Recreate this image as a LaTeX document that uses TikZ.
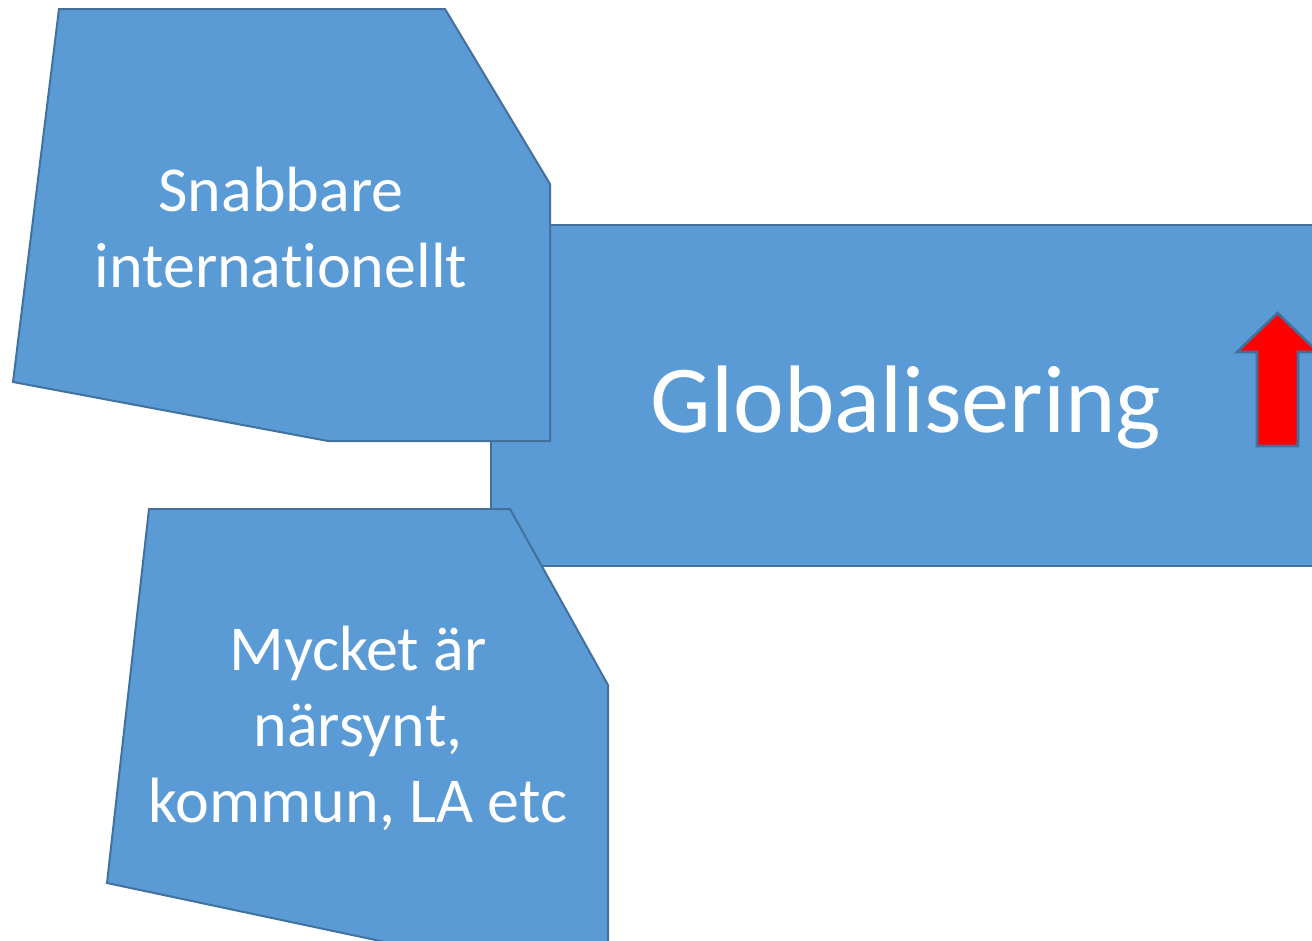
\documentclass[tikz,border=0pt]{standalone}
\usepackage{fontspec}
\setmainfont{Carlito}[Ligatures=NoCommon]
\definecolor{boxfill}{HTML}{5B9BD5}
\definecolor{boxline}{HTML}{41719C}
\definecolor{arrowred}{HTML}{FF0000}
\tikzset{
  shapebox/.style={fill=boxfill, draw=boxline, line width=1.5pt, line join=miter},
  redarrow/.style={fill=arrowred, draw=boxline, line width=2pt},
  smalltext/.style={text=white, align=center, font=\fontsize{48}{57}\selectfont, anchor=base, inner sep=0pt},
  bigtext/.style={text=white, font=\fontsize{72}{86}\selectfont, anchor=base, inner sep=0pt}
}
\begin{document}
\begin{tikzpicture}[x=0.75pt,y=-0.75pt]
\useasboundingbox (0,0) rectangle (1312,940);
\begin{scope}
\clip (0,0) rectangle (1312,940);
% big rectangle
\draw[shapebox] (491,225) rectangle (1330,566);
% top polygon
\draw[shapebox] (59,9) -- (445,9) -- (550,184) -- (550,441) -- (328,441) -- (13,382) -- cycle;
% bottom polygon
\draw[shapebox] (149,509) -- (510,509) -- (608,685) -- (608,960) -- (470,960) -- (107,883) -- cycle;
% red arrow
\draw[redarrow] (1257,446) -- (1257,352) -- (1237,352) -- (1277.5,313) -- (1318,352) -- (1298,352) -- (1298,446) -- cycle;
\end{scope}
\node[bigtext] (glob) at (906,432) {Globalisering};
\node[smalltext] (top) at (281,287) {Snabbare\\internationellt};
\node[smalltext] (bot) at (358,822) {Mycket är\\närsynt,\\kommun, LA etc};
\end{tikzpicture}
\end{document}
